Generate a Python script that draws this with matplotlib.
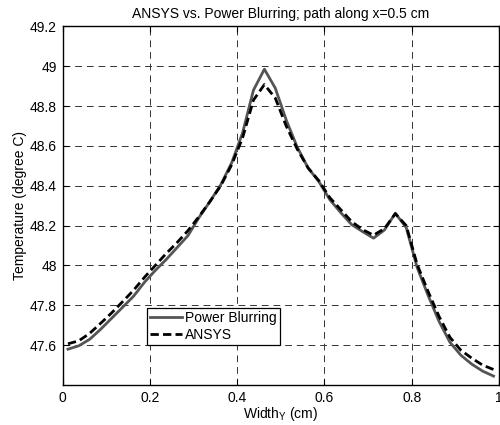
import matplotlib
matplotlib.use("Agg")
import matplotlib.pyplot as plt
import numpy as np

plt.rcParams['font.family'] = ['Liberation Sans', 'DejaVu Sans']
plt.rcParams['mathtext.default'] = 'regular'

# -----------------------
# Data
# -----------------------
width_y = [0.0125, 0.0375, 0.0625, 0.0875, 0.1125, 0.1375, 0.1625, 0.1875,
           0.2125, 0.2375, 0.2625, 0.2875, 0.3125, 0.3375, 0.3625, 0.3875,
           0.4125, 0.4375, 0.4625, 0.4875, 0.5125, 0.5375, 0.5625, 0.5875,
           0.6125, 0.6375, 0.6625, 0.6875, 0.7125, 0.7375, 0.7625, 0.7875,
           0.8125, 0.8375, 0.8625, 0.8875, 0.9125, 0.9375, 0.9625, 0.9875]

power_blurring = [47.580, 47.597, 47.630, 47.680, 47.735, 47.790, 47.845, 47.915,
                  47.975, 48.030, 48.090, 48.150, 48.240, 48.320, 48.405, 48.515,
                  48.665, 48.880, 48.985, 48.890, 48.730, 48.595, 48.490, 48.420,
                  48.330, 48.265, 48.205, 48.170, 48.137, 48.178, 48.262, 48.190,
                  47.990, 47.850, 47.720, 47.615, 47.550, 47.505, 47.470, 47.445]

ansys = [47.607, 47.622, 47.660, 47.710, 47.762, 47.818, 47.875, 47.940,
         48.000, 48.060, 48.115, 48.175, 48.245, 48.320, 48.400, 48.505,
         48.640, 48.830, 48.908, 48.840, 48.700, 48.585, 48.490, 48.425,
         48.340, 48.280, 48.220, 48.180, 48.152, 48.185, 48.260, 48.200,
         48.005, 47.870, 47.745, 47.640, 47.575, 47.535, 47.500, 47.478]

xticks = [0, 0.2, 0.4, 0.6, 0.8, 1]
yticks = [47.6, 47.8, 48, 48.2, 48.4, 48.6, 48.8, 49, 49.2]

# -----------------------
# Plot
# -----------------------
fig = plt.figure(figsize=(5, 4.25), dpi=100)
ax = fig.add_axes([0.125, 0.094, 0.873, 0.844])

ax.plot(width_y, power_blurring, color="#555555", linewidth=2, label="Power Blurring")
ax.plot(width_y, ansys, color="black", linewidth=2, linestyle=(0, (3, 1.5)), label="ANSYS")

ax.set_xlim(0, 1)
ax.set_ylim(47.4, 49.2)
ax.set_xticks(xticks)
ax.set_xticklabels(["0", "0.2", "0.4", "0.6", "0.8", "1"])
ax.set_yticks(yticks)
ax.set_yticklabels(["47.6", "47.8", "48", "48.2", "48.4", "48.6", "48.8", "49", "49.2"])

ax.tick_params(direction="in", top=True, right=True, labelsize=10, length=4,
               width=0.8, pad=4)
ax.grid(True, color="#333333", linestyle=(0, (7, 5)), linewidth=0.7)
for s in ax.spines.values():
    s.set_linewidth(1)

ax.set_title("ANSYS vs. Power Blurring; path along x=0.5 cm", fontsize=10, pad=6)
ax.set_xlabel("Width$_{Y}$ (cm)", fontsize=10, labelpad=0)
ax.set_ylabel("Temperature (degree C)", fontsize=10, labelpad=2)

leg = ax.legend(loc="lower left", bbox_to_anchor=(0.193, 0.111), fontsize=10,
                frameon=True, fancybox=False, framealpha=1, edgecolor="black",
                handlelength=2.3, handletextpad=0.2, borderpad=0.25,
                labelspacing=0.2, borderaxespad=0)
leg.get_frame().set_linewidth(0.9)

fig.savefig("out.png", dpi=100)
